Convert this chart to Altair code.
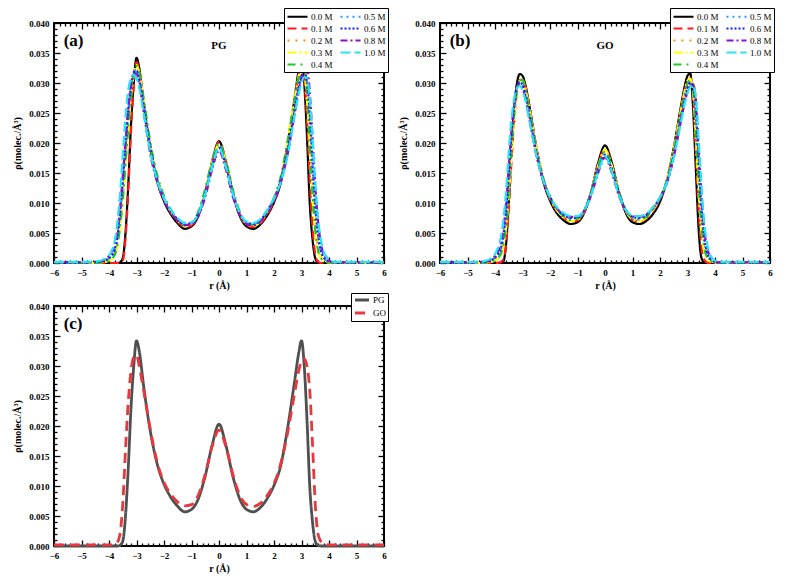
import altair as alt
import pandas as pd

# ---------------- data ----------------
R = [-6, -5, -4.4, -4.2, -4.0, -3.8, -3.7, -3.6, -3.5, -3.4, -3.3, -3.2, -3.1, -3.0, -2.9, -2.75,
     -2.5, -2.25, -2.0, -1.75, -1.5, -1.25, -1.0, -0.75, -0.5, -0.25, 0,
     0.25, 0.5, 0.75, 1.0, 1.25, 1.5, 1.75, 2.0, 2.25, 2.5, 2.75, 2.9, 3.0, 3.1, 3.2, 3.3,
     3.4, 3.5, 3.6, 3.7, 3.8, 4.0, 4.2, 4.4, 5, 6]

# PG panel (a)
PG_00 = [0, 0, 0, 0, 0, 0, 0, 0.0001, 0.0008, 0.005, 0.013, 0.023, 0.030, 0.0342, 0.0325, 0.027, 0.0192, 0.0137, 0.0103, 0.0081, 0.0066, 0.0057, 0.0061, 0.0079, 0.0117, 0.0168, 0.0203,
         0.0168, 0.0117, 0.0079, 0.0061, 0.0057, 0.0064, 0.0079, 0.0101, 0.0135, 0.0198, 0.0275, 0.0322, 0.0342, 0.0300, 0.0210, 0.0100, 0.0040, 0.0008, 0.0001, 0, 0, 0, 0, 0, 0, 0]
PG_01 = [0, 0, 0, 0, 0, 0, 0, 0, 0.0004, 0.004, 0.012, 0.022, 0.0295, 0.0335, 0.0322, 0.0272, 0.0196, 0.0141, 0.0106, 0.0084, 0.0069, 0.0060, 0.0063, 0.0081, 0.0119, 0.0170, 0.0202,
         0.0170, 0.0120, 0.0082, 0.0063, 0.0060, 0.0066, 0.0081, 0.0103, 0.0138, 0.0200, 0.0272, 0.0315, 0.0333, 0.0310, 0.0240, 0.0140, 0.0060, 0.0015, 0.0002, 0, 0, 0, 0, 0, 0, 0]
PG_02 = [0.0001, 0.0001, 0.0001, 0.0002, 0.0005, 0.0015, 0.003, 0.006, 0.011, 0.017, 0.023, 0.028, 0.0315, 0.0328, 0.0315, 0.027, 0.0195, 0.0142, 0.0108, 0.0086, 0.0071, 0.0062, 0.0065, 0.0082, 0.0118, 0.0166, 0.0197,
         0.0166, 0.0118, 0.0083, 0.0066, 0.0062, 0.0068, 0.0083, 0.0105, 0.0140, 0.0195, 0.0265, 0.0305, 0.0322, 0.0325, 0.0290, 0.0210, 0.0120, 0.0060, 0.0025, 0.0010, 0.0004, 0.0001, 0.0001, 0.0001, 0.0001, 0.0001]
PG_03 = [0, 0, 0, 0.0001, 0.0004, 0.0012, 0.0025, 0.0055, 0.010, 0.016, 0.022, 0.0275, 0.0313, 0.0330, 0.0318, 0.0275, 0.0198, 0.0143, 0.0108, 0.0086, 0.0071, 0.0062, 0.0065, 0.0083, 0.0120, 0.0168, 0.0197,
         0.0168, 0.0120, 0.0083, 0.0065, 0.0062, 0.0069, 0.0085, 0.0107, 0.0143, 0.0205, 0.0275, 0.0312, 0.0330, 0.0320, 0.0270, 0.0190, 0.0110, 0.0050, 0.0020, 0.0008, 0.0003, 0.0001, 0, 0, 0, 0]
PG_04 = [0, 0, 0, 0.0001, 0.0004, 0.0013, 0.0028, 0.0060, 0.0105, 0.0165, 0.0225, 0.0280, 0.0315, 0.0328, 0.0318, 0.0278, 0.0202, 0.0147, 0.0112, 0.0089, 0.0073, 0.0063, 0.0066, 0.0086, 0.0124, 0.0170, 0.0199,
         0.0170, 0.0123, 0.0086, 0.0067, 0.0063, 0.0070, 0.0087, 0.0109, 0.0145, 0.0205, 0.0272, 0.0310, 0.0328, 0.0325, 0.0285, 0.0200, 0.0115, 0.0055, 0.0022, 0.0009, 0.0003, 0.0001, 0, 0, 0, 0]
PG_05 = [0.0001, 0.0001, 0.0002, 0.0004, 0.0008, 0.0020, 0.0040, 0.0080, 0.0130, 0.0190, 0.0250, 0.0295, 0.0318, 0.0322, 0.0308, 0.0268, 0.0193, 0.0141, 0.0108, 0.0087, 0.0073, 0.0065, 0.0067, 0.0083, 0.0118, 0.0164, 0.0194,
         0.0164, 0.0118, 0.0084, 0.0068, 0.0065, 0.0071, 0.0086, 0.0107, 0.0140, 0.0192, 0.0258, 0.0296, 0.0314, 0.0320, 0.0300, 0.0245, 0.0160, 0.0090, 0.0045, 0.0020, 0.0009, 0.0003, 0.0001, 0.0001, 0.0001, 0.0001]
PG_06 = [0.0001, 0.0001, 0.0002, 0.0004, 0.0008, 0.0022, 0.0042, 0.0082, 0.0135, 0.0195, 0.0252, 0.0295, 0.0318, 0.0320, 0.0305, 0.0265, 0.0192, 0.0140, 0.0107, 0.0086, 0.0072, 0.0065, 0.0067, 0.0082, 0.0117, 0.0162, 0.0192,
         0.0162, 0.0117, 0.0083, 0.0067, 0.0065, 0.0071, 0.0086, 0.0107, 0.0139, 0.0190, 0.0255, 0.0293, 0.0312, 0.0318, 0.0302, 0.0250, 0.0170, 0.0095, 0.0048, 0.0022, 0.0010, 0.0003, 0.0001, 0.0001, 0.0001, 0.0001]
PG_08 = [0.0001, 0.0001, 0.0002, 0.0005, 0.0012, 0.0030, 0.0050, 0.0090, 0.0145, 0.0205, 0.0260, 0.0298, 0.0313, 0.0315, 0.0298, 0.0255, 0.0182, 0.0135, 0.0104, 0.0084, 0.0071, 0.0063, 0.0064, 0.0078, 0.0110, 0.0156, 0.0187,
         0.0156, 0.0111, 0.0080, 0.0065, 0.0063, 0.0069, 0.0084, 0.0105, 0.0135, 0.0182, 0.0248, 0.0287, 0.0308, 0.0322, 0.0325, 0.0285, 0.0210, 0.0130, 0.0070, 0.0035, 0.0015, 0.0004, 0.0001, 0.0001, 0.0001, 0.0001]
PG_10 = [0.0002, 0.0002, 0.0003, 0.0006, 0.0013, 0.0035, 0.0065, 0.0115, 0.0180, 0.0245, 0.0288, 0.0308, 0.0313, 0.0308, 0.0292, 0.0252, 0.0185, 0.0138, 0.0108, 0.0088, 0.0075, 0.0067, 0.0068, 0.0082, 0.0115, 0.0160, 0.0192,
         0.0160, 0.0116, 0.0084, 0.0069, 0.0067, 0.0073, 0.0088, 0.0108, 0.0135, 0.0180, 0.0245, 0.0282, 0.0300, 0.0310, 0.0308, 0.0275, 0.0210, 0.0135, 0.0075, 0.0040, 0.0020, 0.0006, 0.0002, 0.0002, 0.0002, 0.0002]

# GO panel (b)
GO_00 = [0, 0, 0, 0, 0, 0, 0.0002, 0.0030, 0.0100, 0.0190, 0.0260, 0.0300, 0.0315, 0.0312, 0.0298, 0.0262, 0.0192, 0.0137, 0.0104, 0.0083, 0.0071, 0.0065, 0.0068, 0.0084, 0.0119, 0.0167, 0.0196,
         0.0167, 0.0119, 0.0084, 0.0068, 0.0065, 0.0070, 0.0082, 0.0102, 0.0138, 0.0192, 0.0258, 0.0295, 0.0312, 0.0316, 0.0260, 0.0160, 0.0060, 0.0010, 0.0001, 0, 0, 0, 0, 0, 0, 0]
GO_01 = [0, 0, 0, 0, 0, 0.0001, 0.0006, 0.0030, 0.0090, 0.0170, 0.0240, 0.0285, 0.0305, 0.0306, 0.0295, 0.0262, 0.0195, 0.0142, 0.0108, 0.0087, 0.0075, 0.0069, 0.0071, 0.0086, 0.0120, 0.0163, 0.0190,
         0.0163, 0.0120, 0.0087, 0.0072, 0.0069, 0.0074, 0.0087, 0.0106, 0.0138, 0.0190, 0.0252, 0.0288, 0.0303, 0.0308, 0.0280, 0.0190, 0.0095, 0.0030, 0.0007, 0.0001, 0, 0, 0, 0, 0, 0]
GO_02 = [0.0001, 0.0001, 0.0001, 0.0002, 0.0005, 0.0015, 0.0030, 0.0060, 0.0120, 0.0190, 0.0245, 0.0285, 0.0302, 0.0303, 0.0290, 0.0256, 0.0190, 0.0140, 0.0108, 0.0088, 0.0076, 0.0070, 0.0072, 0.0086, 0.0118, 0.0160, 0.0188,
         0.0160, 0.0118, 0.0087, 0.0073, 0.0070, 0.0075, 0.0088, 0.0107, 0.0136, 0.0185, 0.0247, 0.0283, 0.0300, 0.0307, 0.0290, 0.0220, 0.0130, 0.0060, 0.0025, 0.0010, 0.0004, 0.0001, 0.0001, 0.0001, 0.0001, 0.0001]
GO_03 = [0, 0, 0, 0.0001, 0.0004, 0.0012, 0.0026, 0.0055, 0.0110, 0.0180, 0.0240, 0.0283, 0.0303, 0.0305, 0.0292, 0.0258, 0.0192, 0.0141, 0.0108, 0.0088, 0.0076, 0.0070, 0.0072, 0.0087, 0.0120, 0.0162, 0.0189,
         0.0162, 0.0120, 0.0087, 0.0073, 0.0070, 0.0075, 0.0089, 0.0109, 0.0139, 0.0190, 0.0252, 0.0288, 0.0304, 0.0307, 0.0285, 0.0210, 0.0120, 0.0055, 0.0020, 0.0008, 0.0003, 0.0001, 0, 0, 0, 0]
GO_04 = [0, 0, 0, 0.0001, 0.0005, 0.0014, 0.0030, 0.0062, 0.0118, 0.0188, 0.0248, 0.0288, 0.0305, 0.0305, 0.0291, 0.0256, 0.0191, 0.0142, 0.0110, 0.0090, 0.0078, 0.0072, 0.0074, 0.0088, 0.0120, 0.0160, 0.0186,
         0.0160, 0.0120, 0.0089, 0.0075, 0.0072, 0.0077, 0.0090, 0.0109, 0.0138, 0.0186, 0.0246, 0.0282, 0.0299, 0.0305, 0.0290, 0.0225, 0.0135, 0.0065, 0.0028, 0.0011, 0.0004, 0.0001, 0, 0, 0, 0]
GO_05 = [0.0001, 0.0001, 0.0002, 0.0004, 0.0009, 0.0022, 0.0043, 0.0083, 0.0145, 0.0210, 0.0260, 0.0292, 0.0302, 0.0298, 0.0283, 0.0248, 0.0186, 0.0140, 0.0110, 0.0091, 0.0080, 0.0074, 0.0075, 0.0088, 0.0118, 0.0157, 0.0182,
         0.0157, 0.0118, 0.0089, 0.0076, 0.0074, 0.0079, 0.0091, 0.0109, 0.0136, 0.0182, 0.0240, 0.0276, 0.0293, 0.0302, 0.0295, 0.0250, 0.0170, 0.0090, 0.0042, 0.0018, 0.0008, 0.0002, 0.0001, 0.0001, 0.0001, 0.0001]
GO_06 = [0.0001, 0.0001, 0.0002, 0.0004, 0.0009, 0.0023, 0.0045, 0.0086, 0.0148, 0.0212, 0.0262, 0.0292, 0.0301, 0.0297, 0.0281, 0.0246, 0.0185, 0.0139, 0.0110, 0.0091, 0.0080, 0.0075, 0.0076, 0.0088, 0.0117, 0.0155, 0.0180,
         0.0155, 0.0117, 0.0089, 0.0077, 0.0075, 0.0080, 0.0092, 0.0109, 0.0135, 0.0180, 0.0238, 0.0274, 0.0291, 0.0300, 0.0296, 0.0260, 0.0180, 0.0098, 0.0046, 0.0020, 0.0009, 0.0002, 0.0001, 0.0001, 0.0001, 0.0001]
GO_08 = [0.0001, 0.0001, 0.0002, 0.0005, 0.0012, 0.0030, 0.0055, 0.0098, 0.0160, 0.0222, 0.0268, 0.0293, 0.0298, 0.0292, 0.0276, 0.0240, 0.0180, 0.0137, 0.0109, 0.0091, 0.0081, 0.0077, 0.0077, 0.0087, 0.0113, 0.0150, 0.0176,
         0.0150, 0.0113, 0.0088, 0.0078, 0.0077, 0.0081, 0.0092, 0.0109, 0.0133, 0.0176, 0.0234, 0.0268, 0.0285, 0.0295, 0.0298, 0.0275, 0.0200, 0.0120, 0.0060, 0.0028, 0.0013, 0.0003, 0.0001, 0.0001, 0.0001, 0.0001]
GO_10 = [0.0002, 0.0002, 0.0003, 0.0006, 0.0015, 0.0040, 0.0070, 0.0118, 0.0185, 0.0240, 0.0275, 0.0292, 0.0295, 0.0288, 0.0272, 0.0238, 0.0180, 0.0138, 0.0110, 0.0093, 0.0083, 0.0078, 0.0078, 0.0088, 0.0114, 0.0152, 0.0178,
         0.0152, 0.0114, 0.0089, 0.0079, 0.0078, 0.0082, 0.0093, 0.0110, 0.0134, 0.0176, 0.0232, 0.0266, 0.0283, 0.0293, 0.0296, 0.0278, 0.0210, 0.0135, 0.0072, 0.0035, 0.0016, 0.0004, 0.0002, 0.0002, 0.0002, 0.0002]

# Panel (c): PG vs GO
C_PG = PG_00
C_GO = [0.0002, 0.0002, 0.0002, 0.0002, 0.0002, 0.0003, 0.0006, 0.0020, 0.0070, 0.0160, 0.0240, 0.0292, 0.0315, 0.0318, 0.0300, 0.0262, 0.0195, 0.0140, 0.0106, 0.0086, 0.0073, 0.0067, 0.0069, 0.0085, 0.0120, 0.0166, 0.0193,
        0.0166, 0.0120, 0.0085, 0.0069, 0.0066, 0.0071, 0.0084, 0.0104, 0.0138, 0.0190, 0.0255, 0.0292, 0.0308, 0.0312, 0.0300, 0.0260, 0.0170, 0.0070, 0.0020, 0.0008, 0.0004, 0.0002, 0.0002, 0.0002, 0.0002, 0.0002]

CONC = ["0.0 M", "0.1 M", "0.2 M", "0.3 M", "0.4 M", "0.5 M", "0.6 M", "0.8 M", "1.0 M"]
PG_SERIES = [PG_00, PG_01, PG_02, PG_03, PG_04, PG_05, PG_06, PG_08, PG_10]
GO_SERIES = [GO_00, GO_01, GO_02, GO_03, GO_04, GO_05, GO_06, GO_08, GO_10]

COLOR = {"0.0 M": "#000000", "0.1 M": "#ff1a1a", "0.2 M": "#ff8c1a", "0.3 M": "#ffff00",
         "0.4 M": "#1ec81e", "0.5 M": "#1e9bff", "0.6 M": "#1a1aff", "0.8 M": "#8c10c8",
         "1.0 M": "#22e6f0"}
DASH = {"0.0 M": [1, 0], "0.1 M": [9, 5], "0.2 M": [2, 6], "0.3 M": [9, 3, 2, 3],
        "0.4 M": [8, 5, 2, 5], "0.5 M": [2, 4], "0.6 M": [2, 2], "0.8 M": [7, 3, 2, 3],
        "1.0 M": [10, 4]}

C_NAMES = ["PG", "GO"]
C_COLOR = ["#505050", "#e8383d"]
C_DASH = [[1, 0], [10, 6]]

FONT = "Liberation Serif"
W, H = 330, 240


def long_df(names, series):
    rows = []
    for name, vals in zip(names, series):
        for r, v in zip(R, vals):
            rows.append({"r": r, "rho": v, "conc": name})
    return pd.DataFrame(rows)


xs = alt.Scale(domain=[-6, 6], nice=False, zero=False)
ys = alt.Scale(domain=[0, 0.04], nice=False, zero=False)

X_MAJOR = list(range(-6, 7))
X_ALL = [round(-6 + 0.2 * i, 1) for i in range(61)]
Y_MAJOR = [round(0.005 * i, 3) for i in range(9)]
Y_ALL = [round(0.001 * i, 3) for i in range(41)]

X_TICK = {"condition": {"test": "abs(datum.value - round(datum.value)) < 0.01", "value": 6}, "value": 3}
Y_TICK = {"condition": {"test": "abs(datum.value * 200 - round(datum.value * 200)) < 0.01", "value": 6}, "value": 3}

frame_df = pd.DataFrame({"r": [-6, 6], "rho": [0, 0.04]})


def tick_layer(x_orient, y_orient):
    return alt.Chart(frame_df).mark_point(opacity=0).encode(
        x=alt.X("r:Q", scale=xs, axis=alt.Axis(orient=x_orient, offset=-H, values=X_ALL, labels=False,
                                                 domain=False, grid=False, title=None, tickSize=X_TICK,
                                                 tickColor="black", tickWidth=1.3)),
        y=alt.Y("rho:Q", scale=ys, axis=alt.Axis(orient=y_orient, offset=-W, values=Y_ALL, labels=False,
                                                   domain=False, grid=False, title=None, tickSize=Y_TICK,
                                                   tickColor="black", tickWidth=1.3)),
    )


def panel(df, dom, colors, dashes, legend, tag, name, width=2.2):
    lines = alt.Chart(df).mark_line(interpolate="monotone", strokeWidth=width).encode(
        x=alt.X("r:Q", scale=xs, axis=alt.Axis(values=X_MAJOR, format="d", ticks=False, domain=False,
                                                 grid=False, title="r (Å)", labelFlush=False,
                                                 labelPadding=5, titlePadding=3,
                                                 labelFont=FONT, labelFontWeight="bold", labelFontSize=9,
                                                 titleFont=FONT, titleFontWeight="bold", titleFontSize=10,
                                                 labelColor="black", titleColor="black")),
        y=alt.Y("rho:Q", scale=ys, axis=alt.Axis(values=Y_MAJOR, format=".3f", ticks=False, domain=False,
                                                   grid=False, title="ρ(molec./Å³)", labelPadding=5,
                                                   titlePadding=6,
                                                   labelFont=FONT, labelFontWeight="bold", labelFontSize=9,
                                                   titleFont=FONT, titleFontWeight="bold", titleFontSize=10,
                                                   labelColor="black", titleColor="black")),
        color=alt.Color("conc:N", scale=alt.Scale(domain=dom, range=colors), legend=legend),
        strokeDash=alt.StrokeDash("conc:N", scale=alt.Scale(domain=dom, range=dashes), legend=legend),
    )
    layers = [lines]
    tag_df = pd.DataFrame({"r": [-5.65], "rho": [0.0362], "t": [tag]})
    layers.append(alt.Chart(tag_df).mark_text(font=FONT, fontWeight="bold", fontSize=17, align="left",
                                              baseline="alphabetic", color="black").encode(
        x=alt.X("r:Q", scale=xs, axis=None), y=alt.Y("rho:Q", scale=ys, axis=None), text="t:N"))
    if name:
        name_df = pd.DataFrame({"r": [0.0], "rho": [0.0357], "t": [name]})
        layers.append(alt.Chart(name_df).mark_text(font=FONT, fontWeight="bold", fontSize=11, align="center",
                                                   baseline="alphabetic", color="black").encode(
            x=alt.X("r:Q", scale=xs, axis=None), y=alt.Y("rho:Q", scale=ys, axis=None), text="t:N"))
    layers.append(tick_layer("top", "right"))
    layers.append(tick_layer("bottom", "left"))
    return alt.layer(*layers).resolve_axis(x="independent", y="independent").properties(width=W, height=H)


def big_legend():
    return alt.Legend(orient="none", legendX=230, legendY=-15, columns=2, title=None,
                      symbolType="M-2,0H2", symbolSize=100, symbolStrokeWidth=2.2,
                      labelFont=FONT, labelFontSize=9, labelColor="black",
                      fillColor="white", strokeColor="black", padding=2,
                      rowPadding=0, columnPadding=3, symbolOffset=5, labelOffset=7)


pg_df = long_df(CONC, PG_SERIES)
go_df = long_df(CONC, GO_SERIES)
c_df = long_df(C_NAMES, [C_PG, C_GO])

pa = panel(pg_df, CONC, [COLOR[k] for k in CONC], [DASH[k] for k in CONC],
           big_legend(), "(a)", "PG")
pb = panel(go_df, CONC, [COLOR[k] for k in CONC], [DASH[k] for k in CONC],
           big_legend(), "(b)", "GO")
c_leg = alt.Legend(orient="none", legendX=297, legendY=-13, title=None, symbolType="M-2,0H2",
                   symbolSize=49, symbolStrokeWidth=3, labelFont=FONT, labelFontSize=9,
                   labelColor="black", fillColor="white", strokeColor="black", padding=2,
                   rowPadding=1, symbolOffset=4, labelOffset=6)
pc = panel(c_df, C_NAMES, C_COLOR, C_DASH, c_leg, "(c)", None, width=2.8)

chart = alt.concat(pa, pb, pc, columns=2, spacing={"row": 0, "column": 6}).resolve_scale(
    color="independent", strokeDash="independent"
).properties(
    padding={"left": 3, "top": -2, "right": 0, "bottom": 0}
).configure_view(stroke="black", strokeWidth=2)

chart.save("out.html", embed_options={"renderer": "svg", "actions": False})
